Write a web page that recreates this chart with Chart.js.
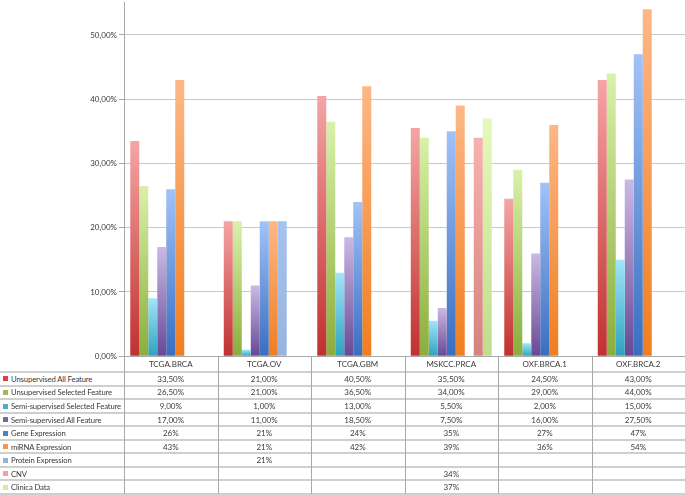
<!DOCTYPE html>
<html>
<head>
<meta charset="utf-8">
<script src="https://cdn.jsdelivr.net/npm/chart.js@4/dist/chart.umd.min.js"></script>
<style>
  html, body { margin: 0; padding: 0; background: #fff; }
  #wrap { position: relative; width: 685px; height: 495px; overflow: hidden; background: #fff; font-family: Lato, "Open Sans", sans-serif; }
  #cv { position: absolute; left: 0; }
  .cell { position: absolute; font-size: 8px; color: #3a3a3a; white-space: nowrap; display: flex; align-items: center; }
  .lab { font-size: 7.7px; letter-spacing: -0.12px; }
  .hl { position: absolute; height: 2px; background: #cfcfcf; }
  .vl { position: absolute; width: 1px; background: #a8a8a8; }
  .key { display: inline-block; flex: 0 0 5px; width: 5px; height: 5px; margin-right: 3px; }
</style>
</head>
<body>
<div id="wrap">
  <div id="cv" style="top:-4px;width:685px;height:367px;"><canvas id="c"></canvas></div>
</div>
<script>
// ---- data ----
const categories = ['TCGA.BRCA', 'TCGA.OV', 'TCGA.GBM', 'MSKCC.PRCA', 'OXF.BRCA.1', 'OXF.BRCA.2'];
const seriesNames = ['Unsupervised All Feature', 'Unsupervised Selected Feature', 'Semi-supervised Selected Feature',
  'Semi-supervised All Feature', 'Gene Expression', 'miRNA Expression', 'Protein Expression', 'CNV', 'Clinica Data'];
const unsupervisedAll = [33.5, 21, 40.5, 35.5, 24.5, 43];
const unsupervisedSelected = [26.5, 21, 36.5, 34, 29, 44];
const semiSelected = [9, 1, 13, 5.5, 2, 15];
const semiAll = [17, 11, 18.5, 7.5, 16, 27.5];
const geneExpression = [26, 21, 24, 35, 27, 47];
const mirnaExpression = [43, 21, 42, 39, 36, 54];
const proteinExpression = [null, 21, null, null, null, null];
const cnv = [null, null, null, 34, null, null];
const clinicaData = [null, null, null, 37, null, null];
const yTicks = [0, 10, 20, 30, 40, 50];
const tableDecimals = [2, 2, 2, 2, 0, 0, 0, 0, 0];

// ---- styles ----
const seriesValues = [unsupervisedAll, unsupervisedSelected, semiSelected, semiAll, geneExpression, mirnaExpression, proteinExpression, cnv, clinicaData];
const topColors = ['#f5a5a5', '#d9f1a9', '#a2e5f9', '#cab9e4', '#a2c2f8', '#fdb787', '#a6c3f0', '#f8b2ae', '#e6f9ba'];
const botColors = ['#c0302f', '#8aad3c', '#2ea2bf', '#684896', '#386ec0', '#f07e1e', '#98b4de', '#d6827e', '#c0dc8c'];
const keyColors = ['#d64545', '#9bbb59', '#4bacc6', '#8064a2', '#4f81bd', '#f79646', '#95b3d7', '#f2a0a0', '#d4eea0'];

function gradFor(i) {
  return (ctx) => {
    const chart = ctx.chart;
    const ys = chart.scales && chart.scales.y;
    const v = ctx.raw;
    if (!chart.chartArea || !ys || v == null) return keyColors[i];
    const top = ys.getPixelForValue(v), bot = ys.getPixelForValue(0);
    const g = chart.ctx.createLinearGradient(0, top, 0, bot);
    g.addColorStop(0, topColors[i]);
    g.addColorStop(1, botColors[i]);
    return g;
  };
}

const datasets = seriesNames.map((n, i) => ({
  label: n,
  data: seriesValues[i],
  backgroundColor: gradFor(i),
  borderWidth: 0,
  categoryPercentage: 0.866,
  barPercentage: 1.0
}));

const chart = new Chart(document.getElementById('c'), {
  type: 'bar',
  data: { labels: categories, datasets },
  options: {
    responsive: true,
    maintainAspectRatio: false,
    animation: false,
    layout: { padding: { top: 0, right: 0, bottom: 0, left: 0 } },
    plugins: { legend: { display: false }, tooltip: { enabled: false } },
    scales: {
      x: {
        grid: { display: false },
        border: { display: true, color: '#a8a8a8', width: 1 },
        ticks: { display: false },
        afterFit: (s) => { s.height = 1; }
      },
      y: {
        min: 0, max: 55,
        afterBuildTicks: (s) => { s.ticks = yTicks.map(v => ({ value: v })); },
        afterFit: (s) => { s.width = 124; },
        grid: { color: '#c8c8c8', lineWidth: 1, tickLength: 5, tickColor: '#a8a8a8' },
        border: { display: true, color: '#a8a8a8', width: 1 },
        ticks: {
          padding: 2,
          color: '#3a3a3a',
          font: { family: 'Lato', size: 8 },
          callback: (v) => Number(v).toFixed(2).replace('.', ',') + '%'
        }
      }
    }
  }
});

// ---- data table under the chart ----
const wrap = document.getElementById('wrap');
const offY = document.getElementById('cv').offsetTop;
const xs = chart.scales.x;
const left = chart.chartArea.left, right = chart.chartArea.right;
const colW = (right - left) / categories.length;
const tableTop = chart.chartArea.bottom + offY;
const headerH = 16;
const rowH = (494 - (tableTop + headerH)) / seriesNames.length;

function add(cls, style, html) {
  const d = document.createElement('div');
  d.className = cls;
  Object.assign(d.style, style);
  if (html !== undefined) d.innerHTML = html;
  wrap.appendChild(d);
  return d;
}

// header labels
categories.forEach((c, j) => {
  const cx = xs.getPixelForValue(j);
  add('cell', { left: (cx - colW / 2) + 'px', top: tableTop + 'px', width: colW + 'px', height: headerH + 'px', justifyContent: 'center' }, c);
});
// rows
seriesNames.forEach((n, i) => {
  const top = tableTop + headerH + i * rowH;
  add('cell lab', { left: '3px', top: top + 'px', height: rowH + 'px' },
    '<span class="key" style="background:' + keyColors[i] + '"></span><span>' + n + '</span>');
  seriesValues[i].forEach((v, j) => {
    if (v == null) return;
    const cx = xs.getPixelForValue(j);
    const txt = v.toFixed(tableDecimals[i]).replace('.', ',') + '%';
    add('cell', { left: (cx - colW / 2) + 'px', top: top + 'px', width: colW + 'px', height: rowH + 'px', justifyContent: 'center' }, txt);
  });
});
// horizontal lines
for (let i = 0; i <= seriesNames.length; i++) {
  const y = tableTop + headerH + i * rowH;
  add('hl', { left: '0px', top: (y - 1) + 'px', width: '685px' });
}
// vertical lines
for (let j = 0; j <= categories.length; j++) {
  const x = Math.round(left + j * colW);
  add('vl', { left: x + 'px', top: tableTop + 'px', height: (494 - tableTop) + 'px' });
}
</script>
</body>
</html>
